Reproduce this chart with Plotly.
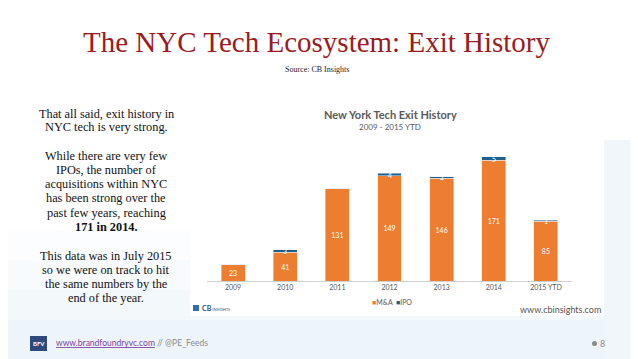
import plotly.graph_objects as go

years = ["2009", "2010", "2011", "2012", "2013", "2014", "2015 YTD"]
mna = [23, 41, 131, 149, 146, 171, 85]
ipo = [0, 3, 0, 4, 2, 5, 1]
ipo_labels = ["" if v == 0 else str(v) for v in ipo]
series_names = ["M&A", "IPO"]
series_colors = ["#ED7D31", "#1F5F8B"]

left_lines = [
    "That all said, exit history in",
    "NYC tech is very strong.",
    "",
    "While there are very few",
    "IPOs, the number of",
    "acquisitions within NYC",
    "has been strong over the",
    "past few years, reaching",
    "<b>171 in 2014.</b>",
    "",
    "This data was in July 2015",
    "so we were on track to hit",
    "the same numbers by the",
    "end of the year.",
]

# page coordinates (the html body adds an 8px offset to the figure)
OFF = 8
PW, PH = 638, 359
L, R, T, B = 207, 572, 140, 281
W, H = PW - OFF, PH - OFF


def px(x):
    return (x - L) / (R - L)


def py(y):
    return (B - y) / (B - T)


fig = go.Figure()
fig.add_trace(go.Bar(
    x=years, y=mna, name=series_names[0], marker_color=series_colors[0],
    text=[str(v) for v in mna], textposition="inside", insidetextanchor="middle",
    textfont=dict(color="white", size=7, family="Lato"), constraintext="none",
))
fig.add_trace(go.Bar(
    x=years, y=ipo, name=series_names[1], marker_color=series_colors[1],
))

shapes = []
bands = [(230, 260, "#fcfdfe"), (260, 290, "#f8fbfd"), (290, 320, "#f3f8fb"), (320, 370, "#eef5fa")]
for y0, y1, c in bands:
    shapes.append(dict(type="rect", xref="paper", yref="paper", x0=px(0), x1=px(PW + 10),
                       y0=py(y1), y1=py(y0), fillcolor=c, line_width=0, layer="below"))
shapes.append(dict(type="rect", xref="paper", yref="paper", x0=px(604), x1=px(PW + 10),
                   y0=py(370), y1=py(140), fillcolor="#f0f6fa", line_width=0, layer="below"))
shapes.append(dict(type="rect", xref="paper", yref="paper", x0=px(190), x1=px(604),
                   y0=py(316), y1=py(95), fillcolor="white", line_width=0, layer="below"))
shapes.append(dict(type="rect", xref="paper", yref="paper", x0=px(30), x1=px(47),
                   y0=py(351), y1=py(336), fillcolor="#2E4A7D", line_width=0))
shapes.append(dict(type="rect", xref="paper", yref="paper", x0=px(193), x1=px(199),
                   y0=py(311), y1=py(305), fillcolor="#2F6FA8", line_width=0))
shapes.append(dict(type="circle", xref="paper", yref="paper", x0=px(592), x1=px(597),
                   y0=py(346), y1=py(341), fillcolor="#8a8a8a", line_width=0))

annotations = []


def ann(x, y, text, size, color, family, xanchor="center", **kw):
    annotations.append(dict(x=px(x), y=py(y), xref="paper", yref="paper", text=text,
                            showarrow=False, xanchor=xanchor, yanchor="middle",
                            font=dict(size=size, color=color, family=family), **kw))


ann(317, 42, "The NYC Tech Ecosystem: Exit History", 29, "#9B1B1E", "Liberation Serif")
ann(317, 69, "Source: CB Insights", 8, "#222222", "Liberation Serif")
ann(390, 114, "<b>New York Tech Exit History</b>", 11, "#595959", "Lato")
ann(390, 127, "2009 - 2015 YTD", 8, "#595959", "Lato")
ann(603, 309, "www.cbinsights.com", 9, "#555555", "Lato", xanchor="right")
ann(200, 308, "<b>CB</b><span style='font-size:4px'> INSIGHTS</span>", 7, "#2F4F7F", "Lato", xanchor="left")
ann(38.5, 343.5, "<b>BFV</b>", 6, "white", "Lato")
ann(54, 343, "<u>www.brandfoundryvc.com</u><span style='color:#8a8a8a'> // @PE_Feeds</span>",
    8.5, "#7B3F9E", "Lato", xanchor="left")
ann(598, 343, "8", 9, "#8a8a8a", "Lato", xanchor="left")

# compact legend
legend_text = "&nbsp;&nbsp;".join(
    f"<span style='color:{c}'>■</span>{n}" for n, c in zip(series_names, series_colors)
)
ann(392, 302, legend_text, 7, "#595959", "Lato")

# IPO labels at the middle of each IPO segment (x = category index)
for i, (m, v, lab) in enumerate(zip(mna, ipo, ipo_labels)):
    if lab:
        annotations.append(dict(x=i, y=m + v / 2, xref="x", yref="y", text=lab,
                                showarrow=False, yanchor="middle",
                                font=dict(size=7, color="white", family="Lato")))

ys = [113.5, 127.5, None, 156, 170, 184, 198, 212.5, 226.5, None, 256, 270, 284, 298]
for t, y in zip(left_lines, ys):
    if t and y is not None:
        ann(106, y, t, 12.3, "#111111", "Liberation Serif")

fig.update_layout(
    width=W, height=H, autosize=False,
    margin=dict(l=L - OFF, r=W - (R - OFF), t=T - OFF, b=H - (B - OFF)),
    paper_bgcolor="white", plot_bgcolor="rgba(0,0,0,0)",
    barmode="stack", bargap=0.54,
    showlegend=False,
    xaxis=dict(type="category", range=[-0.5, len(years) - 0.5], autorange=False,
               showline=True, linecolor="#d0d0d0", linewidth=1, ticks="",
               tickfont=dict(size=7, color="#595959", family="Lato"), showgrid=False,
               fixedrange=True),
    yaxis=dict(range=[0, 200], visible=False, showgrid=False, fixedrange=True),
    shapes=shapes, annotations=annotations,
    font=dict(family="Lato"),
)

fig.write_html("out.html", config={"displayModeBar": False})
